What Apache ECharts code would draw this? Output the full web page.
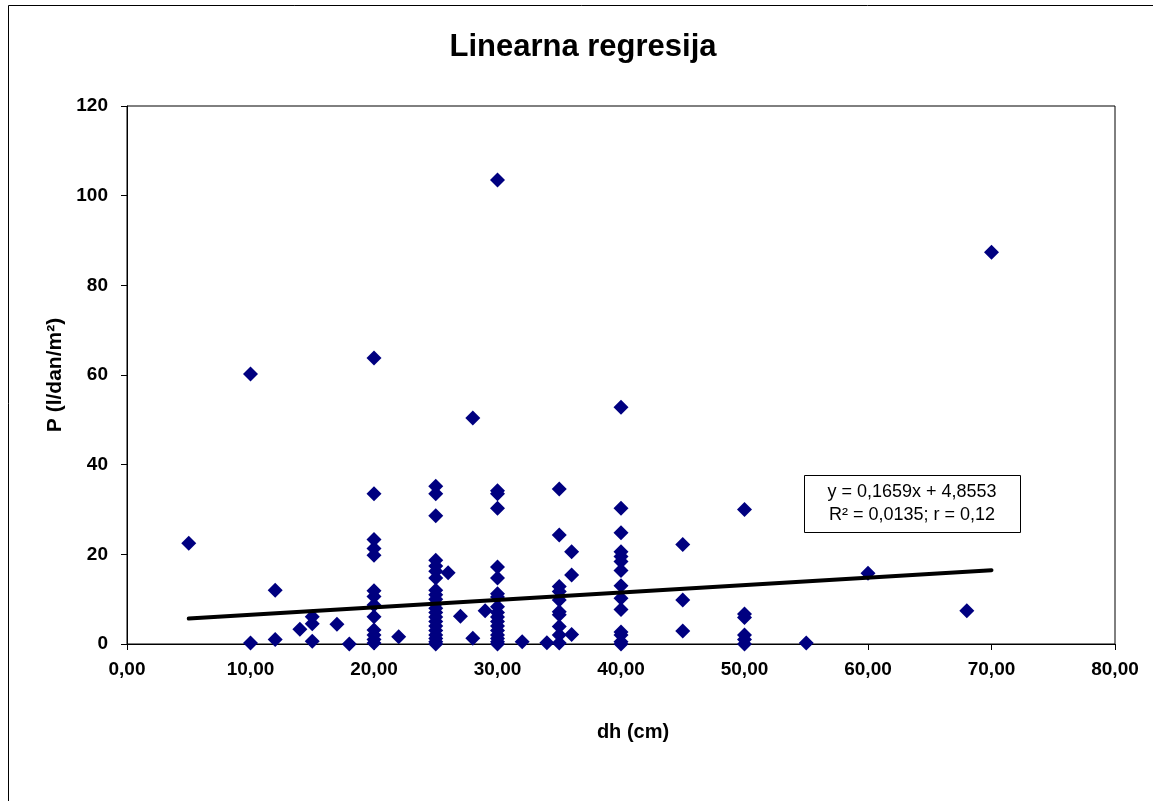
<!DOCTYPE html>
<html>
<head>
<meta charset="utf-8">
<script src="https://cdn.jsdelivr.net/npm/echarts@6/dist/echarts.min.js"></script>
<style>html,body{margin:0;padding:0;background:#fff}#c{width:1153px;height:801px}</style>
</head>
<body>
<div id="c"></div>
<script>
var titleText = 'Linearna regresija';
var xName = 'dh (cm)';
var yName = 'P (l/dan/m\u00b2)';
var eqLines = ['y = 0,1659x + 4,8553', 'R\u00b2 = 0,0135; r = 0,12'];

var dhValues = [
  5, 10, 10, 12, 12, 14, 15, 15, 15, 17, 18,
  20, 20, 20, 20, 20, 20, 20, 20, 20, 20, 20, 20, 20,
  22,
  25, 25, 25, 25, 25, 25, 25, 25, 25, 25, 25, 25, 25, 25, 25, 25, 25, 25, 25, 25, 25,
  26, 27, 28, 28, 29,
  30, 30, 30, 30, 30, 30, 30, 30, 30, 30, 30, 30, 30, 30, 30, 30, 30, 30,
  32, 34,
  35, 35, 35, 35, 35, 35, 35, 35, 35, 35,
  36, 36, 36,
  40, 40, 40, 40, 40, 40, 40, 40, 40, 40, 40, 40, 40, 40,
  45, 45, 45,
  50, 50, 50, 50, 50, 50,
  55, 60, 68, 70
];
var pValues = [
  22.5, 60.2, 0.2, 12, 1.0, 3.3, 6.1, 4.5, 0.6, 4.4, 0,
  63.8, 33.5, 23.3, 21.3, 19.8, 11.9, 10.6, 8.7, 6.1, 3.1, 2.0, 1.0, 0.2,
  1.6,
  35.2, 33.5, 28.6, 18.7, 17.4, 16.2, 14.7, 12.0, 11.0, 10.0, 9.0, 8.0, 7.0, 6.0, 5.0, 4.0, 3.0, 2.0, 1.2, 0.5, 0,
  15.9, 6.2, 50.4, 1.3, 7.4,
  103.5, 34.2, 33.5, 30.3, 17.2, 14.7, 11.2, 10.5, 8.3, 7.0, 6.0, 5.0, 4.0, 3.0, 2.0, 1.2, 0.5, 0,
  0.5, 0.3,
  34.6, 24.3, 12.8, 11.7, 9.8, 7.2, 6.5, 3.9, 2.0, 0.2,
  20.6, 15.4, 2.1,
  52.8, 30.3, 24.8, 20.6, 19.5, 18.4, 16.4, 13.0, 10.2, 7.7, 2.7, 2.0, 0.5, 0,
  22.2, 9.8, 2.9,
  30.0, 6.7, 5.9, 2.0, 1.0, 0,
  0.2, 15.8, 7.4, 87.4
];
var slope = 0.1659, intercept = 4.8553;
var trendX = [5, 70];

var xTicks = { min: 0, max: 80, interval: 10 };
var yTicks = { min: 0, max: 120, interval: 20 };

var points = dhValues.map(function (x, i) { return [x, pValues[i]]; });
var trend = trendX.map(function (x) { return [x, slope * x + intercept]; });

var font = 'Arial, "Liberation Sans", sans-serif';
var chart = echarts.init(document.getElementById('c'));
chart.setOption({
  animation: false,
  backgroundColor: '#fff',
  title: {
    text: titleText, left: 578, top: 27, textAlign: 'center',
    textStyle: { fontFamily: font, fontSize: 31, fontWeight: 'bold', color: '#000' }
  },
  grid: { left: 127, top: 106, right: 38, bottom: 157, show: true, borderColor: '#000', borderWidth: 1, backgroundColor: '#fff' },
  xAxis: {
    type: 'value', min: xTicks.min, max: xTicks.max, interval: xTicks.interval,
    name: xName, nameLocation: 'middle', nameGap: 78,
    nameTextStyle: { fontFamily: font, fontSize: 20, fontWeight: 'bold', color: '#000', padding: [0, 0, 0, 24] },
    axisLine: { show: true, onZero: false, lineStyle: { color: '#000', width: 1 } },
    axisTick: { show: true, inside: false, length: 6, lineStyle: { color: '#000' } },
    splitLine: { show: false },
    axisLabel: { margin: 16, fontFamily: font, fontSize: 19, fontWeight: 'bold', color: '#000',
      formatter: function (v) { return v.toFixed(2).replace('.', ','); } }
  },
  yAxis: {
    type: 'value', min: yTicks.min, max: yTicks.max, interval: yTicks.interval,
    name: yName, nameLocation: 'middle', nameGap: 53, nameRotate: 90,
    nameTextStyle: { fontFamily: font, fontSize: 21, fontWeight: 'bold', color: '#000' },
    axisLine: { show: true, lineStyle: { color: '#000', width: 1 } },
    axisTick: { show: true, inside: false, length: 6, lineStyle: { color: '#000' } },
    splitLine: { show: false },
    axisLabel: { margin: 19, fontFamily: font, fontSize: 19, fontWeight: 'bold', color: '#000' }
  },
  series: [
    {
      type: 'scatter', data: points, symbol: 'diamond', symbolSize: 15,
      itemStyle: { color: '#000080', opacity: 1 }, z: 2
    },
    {
      type: 'line', data: trend, showSymbol: false, symbol: 'none',
      lineStyle: { color: '#000', width: 4, cap: 'round' }, z: 3
    }
  ],
  graphic: [
    { type: 'rect', shape: { x: 8.5, y: 5.5, width: 1200, height: 900 }, style: { fill: 'none', stroke: '#000', lineWidth: 1 }, silent: true, z: -10 },
    { type: 'rect', shape: { x: 804.5, y: 475.5, width: 216, height: 57 }, style: { fill: '#fff', stroke: '#000', lineWidth: 1 }, z: 10 },
    { type: 'text', x: 912, y: 492, style: { text: eqLines[0], font: '18px ' + font, fill: '#000', align: 'center', verticalAlign: 'middle' }, z: 11 },
    { type: 'text', x: 912, y: 515, style: { text: eqLines[1], font: '18px ' + font, fill: '#000', align: 'center', verticalAlign: 'middle' }, z: 11 }
  ]
});
</script>
</body>
</html>
